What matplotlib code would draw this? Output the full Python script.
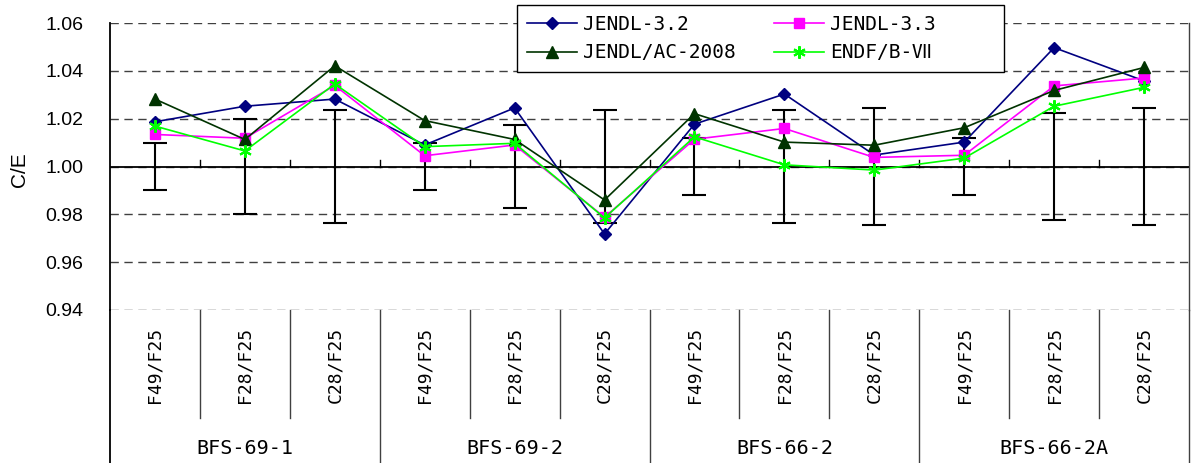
import matplotlib.pyplot as plt
import numpy as np

# カテゴリとデータ
groups = ["BFS-69-1", "BFS-69-2", "BFS-66-2", "BFS-66-2A"]
ratios = ["F49/F25", "F28/F25", "C28/F25"]

jendl32 = [1.0187, 1.0252, 1.0282, 1.0090, 1.0245, 0.9718,
           1.0177, 1.0303, 1.0048, 1.0102, 1.0497, 1.0358]
jendl33 = [1.0134, 1.0118, 1.0339, 1.0045, 1.0090, 0.9788,
           1.0114, 1.0159, 1.0038, 1.0047, 1.0337, 1.0370]
jendl_ac = [1.0282, 1.0113, 1.0421, 1.0192, 1.0113, 0.9860,
            1.0221, 1.0102, 1.0089, 1.0162, 1.0318, 1.0414]
endf7 = [1.0169, 1.0065, 1.0345, 1.0083, 1.0097, 0.9785,
         1.0124, 1.0007, 0.9985, 1.0035, 1.0252, 1.0331]
exp_err = [0.0100, 0.0197, 0.0235, 0.0100, 0.0175, 0.0235,
           0.0118, 0.0235, 0.0243, 0.0120, 0.0222, 0.0243]

mono = ['DejaVu Sans Mono', 'Noto Sans CJK JP']
W, H = 1192, 463

fig = plt.figure(figsize=(W / 100, H / 100), dpi=100)
ax = fig.add_axes([110 / W, 1 - 310 / H, 1079 / W, 287 / H])

n = len(groups) * len(ratios)
x = np.arange(n)

# 実験値の誤差棒 (C/E = 1.00)
ax.errorbar(x, np.ones(n), yerr=exp_err, fmt='none', ecolor='black',
            elinewidth=1.5, capsize=8.5, capthick=1.5, zorder=2)

ax.plot(x, jendl32, color='#000080', lw=1.2, marker='D', ms=6.5, label='JENDL-3.2', zorder=4)
ax.plot(x, jendl33, color='#FF00FF', lw=1.2, marker='s', ms=7, label='JENDL-3.3', zorder=4)
ax.plot(x, jendl_ac, color='#003300', lw=1.2, marker='^', ms=8.5, label='JENDL/AC-2008', zorder=4)
ax.plot(x, endf7, color='#00FF00', lw=1.2, marker=(6, 2, 0), ms=9, mew=1.5,
        label='ENDF/B-Ⅶ', zorder=4)

ax.set_xlim(-0.5, n - 0.5)
ax.set_ylim(0.94, 1.06)
yt = np.arange(0.94, 1.0601, 0.02)
ax.set_yticks(yt)
ax.set_yticklabels(['%.2f' % v for v in yt], family='Liberation Sans', fontsize=14)
ax.tick_params(axis='y', length=0, pad=19)
ax.set_xticks([])

ax.yaxis.grid(True, linestyle=(0, (6, 4)), color='#404040', lw=1)
ax.set_axisbelow(True)
ax.axhline(1.0, color='black', lw=1.3, zorder=3)
# 1.00 線上の目盛り
for b in np.arange(0.5, n - 1, 1.0):
    ax.plot([b, b], [1.0, 1.0028], color='black', lw=1, zorder=3)

ax.set_ylabel('C/E', family='Liberation Sans', fontsize=15)
ax.yaxis.set_label_coords(-0.075, 0.49)

for s in ['top', 'bottom']:
    ax.spines[s].set_visible(False)
ax.spines['left'].set_linewidth(1.3)
ax.spines['right'].set_linewidth(1)
ax.spines['right'].set_color('#404040')

# 下部のカテゴリ表
tr = ax.get_xaxis_transform()
for i in range(n):
    ax.text(x[i], -0.192, ratios[i % 3], transform=tr, rotation=90,
            ha='center', va='center', family=mono, fontsize=13)
for g in range(len(groups)):
    ax.text(g * 3 + 1, -0.481, groups[g], transform=tr,
            ha='center', va='center', family=mono, fontsize=14.5)
for b in np.arange(-0.5, n, 1.0):
    k = int(b + 0.5)
    low = -0.533 if k % 3 == 0 else -0.376
    col = 'black' if k == 0 else '#404040'
    ax.plot([b, b], [0, low], transform=tr, color=col, lw=1.3 if k == 0 else 1,
            clip_on=False)

h, l = ax.get_legend_handles_labels()
order = [0, 2, 1, 3]
labels = [l[i] for i in order]
labels[2] = labels[2] + '     '  # 凡例枠を右へ広げる
leg = fig.legend([h[i] for i in order], labels, ncol=2,
                 loc='upper left', bbox_to_anchor=(517 / W, 1 - 5 / H),
                 borderaxespad=0, prop={'family': mono, 'size': 14},
                 frameon=True, fancybox=False, edgecolor='black', framealpha=1,
                 handlelength=2.6, handletextpad=0.3, columnspacing=1.95,
                 labelspacing=0.5, borderpad=0.5)
leg.get_frame().set_linewidth(1)

fig.savefig('out.png', dpi=100)
